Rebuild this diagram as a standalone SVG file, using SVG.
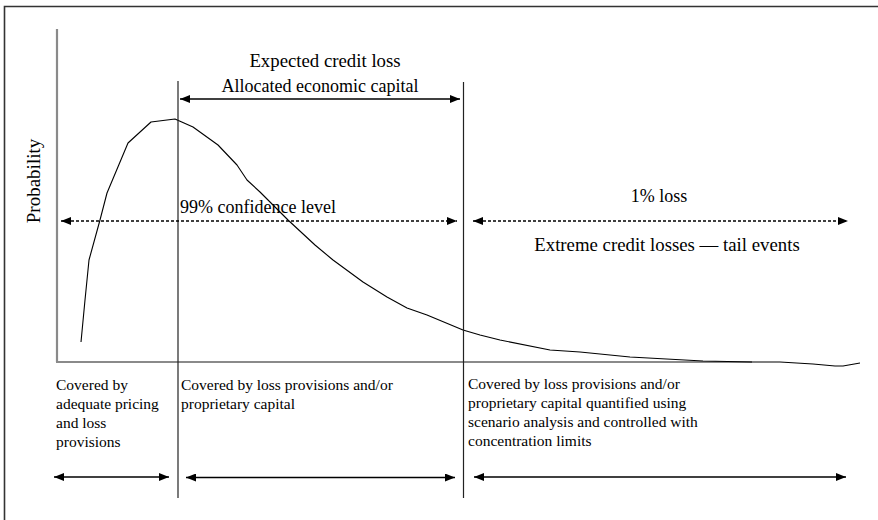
<svg xmlns="http://www.w3.org/2000/svg" width="878" height="520" viewBox="0 0 878 520">
  <style>
    .t { font-family: "Liberation Serif", "Times New Roman", serif; fill: #000; }
    .big { font-size: 18px; }
    .big2 { font-size: 18.8px; }
    .small { font-size: 15.5px; }
    .axis { stroke: #8a8a8a; stroke-width: 2.2; fill: none; }
    .vline { stroke: #222; stroke-width: 1.2; fill: none; }
    .arrow { stroke: #000; stroke-width: 1.3; fill: none; marker-start: url(#ah); marker-end: url(#ah); }
    .dotted { stroke: #000; stroke-width: 1.3; stroke-dasharray: 3 2; fill: none; marker-start: url(#ah); marker-end: url(#ah); }
    .frame { stroke: #333; stroke-width: 1.6; fill: none; }
  </style>
  <defs>
    <marker id="ah" viewBox="0 0 10 8" refX="10" refY="4" markerWidth="10" markerHeight="8" orient="auto-start-reverse" markerUnits="userSpaceOnUse">
      <path d="M0,0 L10,4 L0,8 Z" fill="#000"/>
    </marker>
  </defs>
  <rect width="878" height="520" fill="#fff"/>

  <g id="frame">
    <path class="frame" d="M4.5,520 L4.5,6.5 L878,6.5"/>
  </g>

  <g id="axes">
    <line class="axis" x1="57" y1="29" x2="57" y2="362"/>
    <line class="axis" x1="56" y1="362" x2="752" y2="362"/>
    <text class="t" font-size="19" transform="translate(40,181) rotate(-90)" text-anchor="middle">Probability</text>
  </g>

  <g id="curve">
    <polyline fill="none" stroke="#000" stroke-width="1.1" stroke-linejoin="round" points="81,342 85,300 89,260 100,220 107,193 128,143 151,122 175,119 193,127 218,145 237,165 247,180 260,192 268,200 288,220 315,245 333,260 363,282 387,297 407,308 427,315 463,330 480,335 500,340 550,350 580,352 630,357 703,361 752,362 780,362 813,364 835,366 843,366 860,363"/>
  </g>

  <g id="dividers">
    <line class="vline" x1="178" y1="81" x2="178" y2="498"/>
    <line class="vline" x1="463.5" y1="82" x2="463.5" y2="498"/>
  </g>

  <g id="connectors">
    <line id="allocated-arrow" class="arrow" x1="180" y1="99" x2="460" y2="99"/>
    <line id="confidence-arrow" class="dotted" x1="61" y1="221" x2="457" y2="221"/>
    <line id="tail-arrow" class="dotted" x1="473" y1="221" x2="848" y2="221"/>
    <line id="range1-arrow" class="arrow" x1="54" y1="477" x2="169" y2="477"/>
    <line id="range2-arrow" class="arrow" x1="186" y1="477.5" x2="455" y2="477.5"/>
    <line id="range3-arrow" class="arrow" x1="474" y1="477" x2="846" y2="477"/>
  </g>

  <g id="top-labels">
    <text class="t big2" x="325" y="67" text-anchor="middle">Expected credit loss</text>
    <text class="t big" x="320" y="92" text-anchor="middle">Allocated economic capital</text>
    <text class="t big" x="180" y="213">99% confidence level</text>
    <text class="t big" x="659" y="202" text-anchor="middle">1% loss</text>
    <text class="t big2" x="667" y="251" text-anchor="middle">Extreme credit losses — tail events</text>
  </g>

  <g id="region-left">
    <text class="t small" x="56" y="390">Covered by</text>
    <text class="t small" x="56" y="409">adequate pricing</text>
    <text class="t small" x="56" y="428">and loss</text>
    <text class="t small" x="56" y="447">provisions</text>
  </g>

  <g id="region-middle">
    <text class="t small" x="181" y="390">Covered by loss provisions and/or</text>
    <text class="t small" x="181" y="409">proprietary capital</text>
  </g>

  <g id="region-right">
    <text class="t small" x="468" y="389">Covered by loss provisions and/or</text>
    <text class="t small" x="468" y="408">proprietary capital quantified using</text>
    <text class="t small" x="468" y="427">scenario analysis and controlled with</text>
    <text class="t small" x="468" y="446">concentration limits</text>
  </g>
</svg>
